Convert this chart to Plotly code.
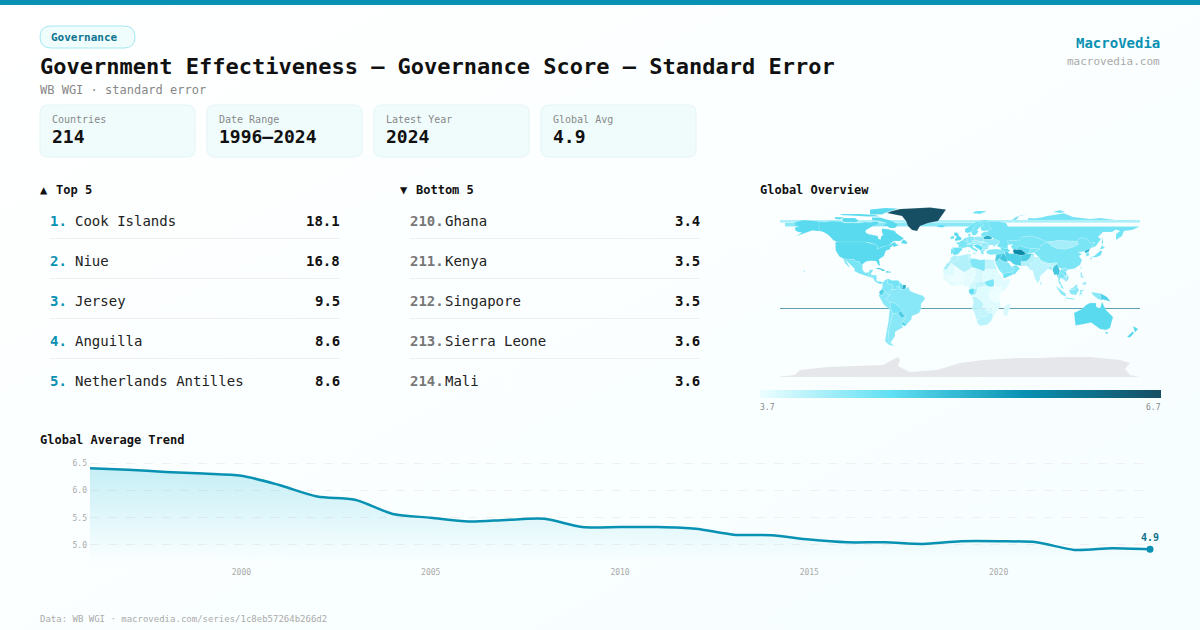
import base64
import plotly.graph_objects as go
from plotly.colors import sample_colorscale

W, H = 1200, 630
MONO = "DejaVu Sans Mono"
CYAN = "#0891b2"
DARK = "#111111"

years = list(range(1996, 2025))
trend = [6.41, 6.38, 6.34, 6.31, 6.27, 6.10, 5.89, 5.83, 5.57, 5.50, 5.43, 5.46, 5.48, 5.33, 5.33,
         5.33, 5.30, 5.19, 5.18, 5.10, 5.05, 5.05, 5.02, 5.07, 5.07, 5.05, 4.91, 4.94, 4.92]

card_labels = ["Countries", "Date Range", "Latest Year", "Global Avg"]
card_values = ["214", "1996–2024", "2024", "4.9"]

top_names = ["Cook Islands", "Niue", "Jersey", "Anguilla", "Netherlands Antilles"]
top_values = ["18.1", "16.8", "9.5", "8.6", "8.6"]
bottom_ranks = ["210.", "211.", "212.", "213.", "214."]
bottom_names = ["Ghana", "Kenya", "Singapore", "Sierra Leone", "Mali"]
bottom_values = ["3.4", "3.5", "3.5", "3.6", "3.6"]

map_min, map_max = 3.7, 6.7
map_scale = [[0, "#ecfeff"], [0.33, "#5fdff3"], [0.66, CYAN], [1, "#164e63"]]

# no topojson offline, so country outlines are rough lon/lat traces
country_shapes = {
    "Wrap band pale": [[(-180, 71), (180, 71), (180, 68.3), (-180, 68.3)]],
    "Wrap band": [[(-175, 68.3), (40, 68.3), (40, 64.5), (-175, 64.5)]],
    "Canada": [[(-141, 69.6), (-135, 69), (-128, 70), (-120, 69.5), (-115, 68), (-108, 68), (-100, 68), (-95, 69), (-90, 68.5), (-85, 69.5), (-81.5, 69), (-82, 66.5), (-87, 65), (-94, 61), (-94.5, 58.7), (-92, 57), (-85, 55.3), (-82, 55), (-82, 52.8), (-79.5, 51.3), (-79, 54.5), (-77, 56), (-78, 59), (-78, 62.4), (-73, 62), (-70, 61), (-65, 60), (-64, 58), (-61, 56), (-56, 52.5), (-60, 50), (-66, 50), (-70, 47), (-65, 49), (-64, 47), (-61, 46), (-66, 44), (-67, 45), (-69, 47.4), (-71, 45), (-75, 45), (-79, 43.5), (-83, 42), (-82.5, 45), (-84.5, 46.5), (-89, 48), (-95, 49), (-123, 49), (-127, 51), (-130, 54.5), (-133, 57), (-137, 59), (-141, 60.3)],
               [(-80, 73.5), (-72, 71.5), (-68, 70), (-62, 66.5), (-65, 63), (-70, 63), (-73, 65), (-78, 65), (-73, 68), (-80, 70), (-88, 71), (-88, 73.5)],
               [(-117, 73), (-105, 73), (-101, 70), (-105, 68.8), (-116, 69), (-118, 71)],
               [(-125, 74), (-116, 73.5), (-120, 71.5), (-125, 72)],
               [(-90, 76.5), (-78, 76.5), (-75, 78), (-65, 81.5), (-62, 82.5), (-75, 83), (-90, 81.5)],
               [(-120, 76), (-105, 75), (-92, 74.5), (-80, 74.5), (-85, 76), (-100, 77), (-118, 77)],
               [(-59, 47.7), (-53, 47), (-53, 49), (-56, 51.5), (-58, 50)]],
    "USA": [[(-168, 65.5), (-164, 66.5), (-166, 68.5), (-157, 71), (-148, 70.3), (-141, 69.6), (-141, 60.3), (-137, 59), (-133, 57), (-131, 55), (-134, 57.5), (-140, 59.8), (-148, 60.5), (-152, 59), (-158, 56.5), (-164, 54.7), (-158, 58.5), (-162, 59), (-165, 61), (-165, 63.5), (-161, 64.5)],
            [(-124.7, 48.4), (-123, 49), (-95, 49), (-89, 48), (-84.5, 46.5), (-82.5, 45), (-83, 42), (-79, 43.5), (-75, 45), (-71, 45), (-69, 47.4), (-67, 45), (-70, 43.5), (-70, 41.7), (-74, 40.5), (-75.5, 37), (-76, 35), (-81, 31.7), (-80, 26), (-81, 25), (-82.8, 28), (-84, 30), (-89, 30.2), (-94, 29.5), (-97.3, 27), (-97.2, 25.9), (-99.5, 27.5), (-101, 29.7), (-103, 29), (-106.5, 31.8), (-111, 31.3), (-114.8, 32.5), (-117.1, 32.5), (-120.6, 34.5), (-122.5, 37.7), (-124.3, 40.4)],
            [(-156.5, 20.5), (-155, 20), (-155.5, 18.8), (-156.2, 19.5)]],
    "Mexico": [[(-117.1, 32.5), (-114.8, 32.5), (-111, 31.3), (-106.5, 31.8), (-103, 29), (-101, 29.7), (-99.5, 27.5), (-97.2, 25.9), (-97.8, 22.5), (-96, 19), (-94, 18.2), (-91, 18.7), (-90.5, 21), (-87, 21.5), (-88, 18.5), (-89, 17.9), (-91, 17.2), (-92.2, 14.6), (-96, 15.7), (-101, 17.5), (-105.5, 20), (-105.5, 22.5), (-109, 25.7), (-112.7, 30), (-114.7, 31.5), (-112, 27), (-110, 23), (-112, 24.7), (-115, 28), (-116, 31)]],
    "Guatemala": [[(-92.2, 14.6), (-91, 17.2), (-89, 17.9), (-88.3, 15.7), (-90, 13.7)]],
    "Honduras": [[(-90, 13.7), (-88.3, 15.7), (-84, 16), (-83.2, 15), (-87, 13)]],
    "Nicaragua": [[(-87, 13), (-83.2, 15), (-83.7, 11), (-85.7, 11)]],
    "Costa Rica": [[(-85.7, 11), (-83.7, 11), (-82.6, 9.5), (-83, 8.3), (-85.5, 10)]],
    "Panama": [[(-83, 8.3), (-82.6, 9.5), (-79.5, 9.6), (-77.3, 8.5), (-78, 7.3), (-80.5, 7.3)]],
    "Cuba": [[(-84.9, 21.9), (-82, 23.2), (-78, 22.3), (-74.2, 20.2), (-77.7, 19.9), (-78.5, 21), (-82, 22)]],
    "Haiti": [[(-74.4, 18.4), (-71.7, 18.3), (-71.7, 19.8), (-73.3, 19.9)]],
    "Dominican Rep.": [[(-71.7, 18.3), (-68.5, 18.4), (-69.8, 19.6), (-71.7, 19.8)]],
    "Colombia": [[(-77.3, 8.5), (-75, 11), (-72, 12.2), (-72.3, 7.5), (-67.5, 6.2), (-67, 1.5), (-70, 1), (-70, -4.2), (-73, -2.3), (-75.2, -0.1), (-78.7, 1.4), (-77.5, 4), (-77.5, 7)]],
    "Venezuela": [[(-72, 12.2), (-68, 10.6), (-62, 10.7), (-60, 8.5), (-61, 6), (-60.7, 5), (-64, 4), (-64, 1.3), (-67, 1.5), (-67.5, 6.2), (-72.3, 7.5)]],
    "Guyana": [[(-60, 8.5), (-57, 6), (-58, 1.5), (-60, 1.2), (-60.7, 5), (-61, 6)]],
    "Suriname": [[(-57, 6), (-54, 5.9), (-54.5, 2.3), (-58, 1.5)]],
    "Ecuador": [[(-80.9, -1), (-78.7, 1.4), (-75.2, -0.1), (-78.3, -4.5), (-80.3, -3.4)]],
    "Peru": [[(-81.3, -4.5), (-80.3, -3.4), (-78.3, -4.5), (-75.2, -0.1), (-73, -2.3), (-70, -4.2), (-74, -7.5), (-70.6, -11), (-69, -12.5), (-69.4, -17.5), (-70.4, -18.3), (-76, -14)]],
    "Brazil": [[(-60.7, 5), (-60, 1.2), (-58, 1.5), (-54.5, 2.3), (-51.7, 4.2), (-50, 0), (-44, -2.5), (-37, -4.8), (-34.8, -7.5), (-39, -13), (-39, -18), (-41, -22), (-48, -25), (-48.5, -28), (-53.4, -33.7), (-57.6, -30.2), (-54, -27), (-54.6, -25.5), (-58, -22), (-58, -20), (-60, -16.3), (-65, -12.5), (-69.5, -11), (-70.6, -11), (-74, -7.5), (-70, -4.2), (-70, 1), (-67, 1.5), (-64, 1.3), (-64, 4)]],
    "Bolivia": [[(-69.5, -11), (-65, -12.5), (-60, -16.3), (-58, -20), (-62.6, -22), (-67, -22.8), (-69.4, -17.5), (-69, -12.5)]],
    "Paraguay": [[(-58, -20), (-58, -22), (-54.6, -25.5), (-58.5, -27.2), (-62.6, -22)]],
    "Uruguay": [[(-57.6, -30.2), (-53.4, -33.7), (-55, -35), (-58.4, -34)]],
    "Argentina": [[(-67, -22.8), (-62.6, -22), (-58.5, -27.2), (-54.6, -25.5), (-54, -27), (-57.6, -30.2), (-58.4, -34), (-57, -36.5), (-62, -39), (-65, -41), (-65, -45), (-69, -51), (-68.5, -52.5), (-72, -50), (-71.5, -40), (-70, -33), (-68.5, -27)]],
    "Chile": [[(-69.4, -17.5), (-67, -22.8), (-68.5, -27), (-70, -33), (-71.5, -40), (-72, -50), (-68.5, -52.5), (-65.5, -55), (-71, -54), (-75, -50), (-73.5, -41), (-71.5, -30), (-70.4, -18.3)]],
    "Greenland": [[(-73, 78), (-68, 80), (-60, 82), (-30, 83.5), (-14, 81.5), (-18, 76), (-22, 70), (-32, 68), (-40, 65), (-43, 60), (-48, 61), (-52, 65), (-54, 70), (-58, 75)]],
    "Iceland": [[(-24, 65.5), (-18, 66.4), (-14, 65), (-18, 63.4), (-22, 64)]],
    "Norway": [[(5, 59), (5, 62), (12, 66), (16, 69), (25, 71), (31, 70), (28, 69.5), (20, 69), (15, 66), (12, 61), (11, 59), (7.5, 58)],
               [(12, 78), (16, 80), (27, 80), (20, 77)]],
    "Sweden": [[(11, 59), (12, 61), (15, 66), (20, 69), (24, 66), (21, 64.5), (17, 61), (18.5, 59.5), (16, 56), (13, 55.5)]],
    "Finland": [[(20, 69), (28, 69.5), (29, 66), (31.5, 62.5), (28, 60.5), (23, 60), (21, 61), (21, 64.5), (24, 66)]],
    "Denmark": [[(8.2, 57), (10.5, 57.5), (10, 55), (8.5, 55)]],
    "UK": [[(-5, 50), (1, 51), (1.7, 52.7), (-1, 55), (-2, 57.5), (-3, 58.6), (-5.5, 58.5), (-6, 56), (-3, 54), (-5, 52)]],
    "Ireland": [[(-10, 52), (-6, 52.2), (-6, 55), (-8.5, 55)]],
    "France": [[(-4.8, 48.4), (-1.5, 48.7), (2.5, 51), (8, 49), (7.5, 44), (3, 43), (-1.8, 43.4), (-1.2, 46)]],
    "Spain": [[(-9, 43.2), (-1.8, 43.4), (3, 42.4), (0, 39), (-2, 36.8), (-5.5, 36), (-7.4, 37.2), (-6.5, 42)]],
    "Portugal": [[(-9, 42), (-6.5, 42), (-7.4, 37.2), (-9, 37)]],
    "Benelux": [[(2.5, 51), (3.5, 51.5), (5, 53.3), (7, 53.3), (6, 50), (5, 49.5)]],
    "Germany": [[(7, 53.5), (9, 54.8), (14, 54), (15, 51), (12, 50.3), (13.5, 48.5), (10, 47.5), (7.5, 47.7), (8, 49), (6, 50)]],
    "Poland": [[(14, 54), (19, 54.4), (23.5, 54), (24, 50.7), (22.5, 49.2), (19, 49.5), (15, 51)]],
    "Czechia-Slovakia": [[(12, 50.3), (15, 51), (19, 49.5), (22.5, 49.2), (22, 48.4), (17, 48), (13.5, 48.5)]],
    "Austria-Switzerland": [[(6, 46.2), (7.5, 47.7), (10, 47.5), (13.5, 48.5), (17, 48), (16.5, 46.8), (13, 46.5), (10, 46.5)]],
    "Italy": [[(7.5, 44), (6.8, 45.8), (10, 46.5), (13, 46.5), (13.7, 45.6), (12.4, 44), (16, 41.9), (18.4, 40.2), (16.5, 39.7), (16, 38), (15.7, 40), (12.3, 41.7), (10, 43.8)],
              [(12.5, 38), (15.6, 38.2), (15, 36.7)], [(8.2, 39), (9.7, 41), (9.6, 39)]],
    "Hungary": [[(17, 48), (22, 48.4), (22, 47), (19, 45.9), (16.5, 46.8)]],
    "Balkans": [[(13.7, 45.6), (16.5, 46.8), (19, 45.9), (22.5, 44.2), (22.7, 42.3), (20.5, 40), (19.3, 41.8), (16, 43.5)]],
    "Romania": [[(22, 48.4), (26.5, 48.2), (28.2, 45.5), (28.7, 43.8), (22.7, 44), (21, 45.5)]],
    "Bulgaria": [[(22.7, 44), (28.7, 43.8), (28, 42), (23, 41.4), (22.7, 42.3)]],
    "Greece": [[(20.5, 40), (23, 41.4), (26.3, 41.3), (23, 39.5), (24, 38), (23, 36.5), (21.5, 37), (21, 38.7)]],
    "Belarus": [[(23.5, 54), (28, 56), (32.5, 53.3), (30.5, 51.4), (24, 51.5)]],
    "Baltics": [[(21, 57), (24, 59.3), (28, 59.5), (28, 56), (23.5, 54), (21, 55.3)]],
    "Ukraine": [[(24, 50.7), (24, 51.5), (30.5, 51.4), (34, 52.2), (40, 49.6), (38, 47), (35, 46), (36.5, 45.2), (33.5, 44.5), (33, 46), (30.5, 46), (28.2, 45.5), (26.5, 48.2), (22.5, 49.2)]],
    "Turkey": [[(26.3, 40), (29, 41.2), (35, 42), (41.5, 41.5), (44.5, 39.7), (44.7, 37.2), (36.2, 36.6), (30.5, 36.3), (27.3, 37)]],
    "Caucasus": [[(41.5, 41.5), (44.5, 39.7), (48, 39), (50, 40.3), (48, 42), (40, 43.5)]],
    "Russia": [[(28, 59.5), (28, 56), (32.5, 53.3), (34, 52.2), (40, 49.6), (38, 47), (37, 45), (40, 43.5), (48, 42), (47.5, 45.5), (49, 46.3), (47, 50), (55, 51), (61, 51), (61, 54), (71, 55), (77, 53.5), (83, 51), (87, 49), (98, 50.5), (107, 50), (117, 49.7), (120, 53.3), (126, 52.7), (131, 48), (135, 48.5), (131, 42.8), (136, 45), (141, 52), (138, 54), (143, 59), (152, 59), (156, 61.5), (160, 60), (156, 57), (156, 51), (162, 55), (164, 60), (172, 61), (180, 64.5), (48, 64.5), (46, 68), (38, 69.5), (31, 70), (28, 69.5), (29, 66), (31.5, 62.5), (28, 60.5)],
               [(68, 71), (68, 73), (75, 72.8), (81, 73.5), (87, 75), (100, 76.5), (104, 77.7), (113, 74), (130, 72), (140, 73), (160, 70.5), (180, 71)],
               [(52, 71), (56, 74), (68, 77), (60, 75.5), (56, 71)], [(93, 79), (100, 81), (105, 79), (100, 78)],
               [(142, 54), (143, 50), (143, 46), (141.8, 48)]],
    "Kazakhstan": [[(47, 50), (55, 51), (61, 51), (61, 54), (71, 55), (77, 53.5), (83, 51), (87, 49), (80, 45), (80, 42), (71, 42.5), (66, 43), (59, 45.5), (56, 41.3), (52.5, 42), (51, 44.5), (53, 46.7), (49, 46.3)]],
    "Uzbekistan": [[(56, 41.3), (59, 45.5), (66, 43), (71, 42.5), (70, 40), (67.5, 37.3), (66, 37.5), (61, 41.5)]],
    "Turkmenistan": [[(53, 40), (54, 42), (56, 41.3), (61, 41.5), (66, 37.5), (64.5, 36.3), (61, 35.6), (54, 37.3)]],
    "Kyrgyz-Tajik": [[(71, 42.5), (80, 42), (74, 38.5), (68, 37), (67.5, 37.3), (70, 40)]],
    "Mongolia": [[(87, 49), (98, 50.5), (107, 50), (117, 49.7), (119, 47), (112, 43.5), (105, 41.7), (96, 42.7), (91, 45.5)]],
    "China": [[(74, 38.5), (80, 42), (80, 45), (87, 49), (91, 45.5), (96, 42.7), (105, 41.7), (112, 43.5), (119, 47), (117, 49.7), (120, 53.3), (126, 52.7), (131, 48), (135, 48.5), (131, 42.8), (125, 40), (121, 39), (118, 39), (122, 37), (119, 35), (122, 31), (120, 26), (114, 22.3), (108, 21.5), (106, 23), (102, 22), (98, 24), (97, 28), (89, 27.5), (81, 30.3), (78.7, 34)]],
    "North Korea": [[(124.5, 40), (130, 42.5), (128.5, 39), (126, 38), (125, 38)]],
    "South Korea": [[(126, 38), (128.5, 38.5), (129.4, 36), (127.7, 34.7), (126.3, 34.7)]],
    "Japan": [[(131, 34), (135, 35.6), (141, 41), (142, 39), (140.5, 35.5), (136, 33.7)], [(140, 42), (142, 45.4), (145, 43.3), (142, 42)], [(130, 33.5), (132, 33), (131, 31)]],
    "Taiwan": [[(120.2, 23), (121.5, 25.2), (121, 22)]],
    "India": [[(68.5, 23.5), (71, 24.5), (70, 27.8), (74, 31), (74, 34), (78.7, 34), (81, 30.3), (80, 28.7), (88, 26.4), (89, 27.5), (96.5, 28.5), (97, 27), (93.5, 24), (92, 23.5), (89, 26), (88, 22), (85, 19.5), (80.3, 15), (80, 11), (77.5, 8), (75, 12), (73, 18), (72.5, 21), (70, 21)]],
    "Pakistan": [[(61, 25), (66.5, 25.3), (68.5, 23.5), (71, 24.5), (70, 27.8), (74, 31), (74, 34), (74.5, 37), (71, 36), (70, 33), (66.5, 30), (61, 29.5)]],
    "Afghanistan": [[(61, 29.5), (66.5, 30), (70, 33), (71, 36), (74.5, 37), (68, 37), (66, 37.5), (64.5, 36.3), (61, 35.6)]],
    "Iran": [[(44.5, 39.7), (48, 39), (49, 37.5), (54, 37.3), (61, 35.6), (61, 29.5), (61, 25), (57, 26), (54, 26.5), (50, 30), (48, 30), (46, 33.5), (44.7, 37.2)]],
    "Iraq": [[(44.7, 37.2), (46, 33.5), (48, 30), (46.5, 29), (44, 29.2), (39, 32.2), (41, 34.5), (42, 37.2)]],
    "Syria-Jordan": [[(36.2, 36.6), (42, 37.2), (41, 34.5), (39, 32.2), (37, 29.5), (35, 29.5), (35.5, 33), (35.8, 35.5)]],
    "Saudi Arabia": [[(35, 29), (37, 29.5), (39, 32.2), (44, 29.2), (46.5, 29), (48.5, 28.3), (51, 25), (51.5, 24.2), (55, 22.5), (52, 19), (44, 17.5), (43, 16.5), (39, 21), (35, 28)]],
    "Yemen": [[(43, 16.5), (44, 17.5), (52, 19), (53, 16.6), (45, 13), (43.5, 12.7)]],
    "Oman": [[(51.5, 24.2), (56.3, 26), (59.8, 22.5), (55, 17), (53, 16.6), (52, 19), (55, 22.5)]],
    "Myanmar": [[(92.5, 21), (93.5, 24), (97, 27), (96.5, 28.5), (98, 24), (100, 20), (98.5, 16), (98.5, 11), (97, 16.5), (94.5, 16)]],
    "Thailand": [[(98.5, 16), (100, 20), (102, 18), (105, 15), (102.5, 12), (100.5, 13.5), (99.5, 10), (102, 6.2), (100, 6.5), (98.5, 9)]],
    "Laos": [[(100, 20), (102, 22), (106, 19), (107, 16), (105, 15), (102, 18)]],
    "Vietnam": [[(102, 22), (106, 23), (108, 21.5), (105.8, 19), (109, 13), (106, 9), (105, 10.5), (107, 14), (107, 16), (106, 19)]],
    "Cambodia": [[(102.5, 12), (105, 15), (107, 14), (105, 10.5)]],
    "Bangladesh": [[(88, 22), (89, 26), (92, 23.5), (92.5, 21)]],
    "Nepal": [[(80, 28.7), (88, 26.4), (88, 28), (81, 30.3)]],
    "Sri Lanka": [[(80, 9.7), (82, 7.3), (80.5, 6)]],
    "Malaysia": [[(100.4, 6.4), (102, 6.2), (104, 2), (101, 3)], [(109.5, 2), (111, 1.5), (114, 1.5), (117.5, 4), (117, 7), (113, 3.5)]],
    "Indonesia": [[(95.3, 5.5), (100, 2), (106, -3), (105.5, -5.8), (101, -3)], [(105.5, -6.5), (114.5, -7.5), (114, -8.6), (106, -7.7)],
                  [(109, 1), (114, 1.5), (117.5, 4), (119, 1), (116, -4), (110.5, -3)], [(119.5, -5.5), (120, 0.8), (125, 1.4), (121, -1), (123, -5), (121, -3)],
                  [(131, -1), (141, -2.6), (141, -9), (138, -8), (133, -4)]],
    "Papua New Guinea": [[(141, -2.6), (147, -6), (150.5, -10.5), (147, -9.8), (143, -8.5), (141, -9)]],
    "Philippines": [[(120.5, 18.5), (122, 18.5), (122, 16), (124, 13), (120.6, 14)], [(122, 7), (125.5, 9.7), (126.5, 7), (124, 6)]],
    "Australia": [[(114, -22), (122, -18), (126, -14), (130, -12), (136, -12), (136, -15.5), (140, -17.5), (142, -11), (146, -19), (153, -26), (150, -37), (146, -39), (140, -38), (135, -34.7), (131, -31.5), (124, -33), (115.5, -34.5), (115, -30)],
                  [(145, -41), (148, -41), (147, -43.5)]],
    "New Zealand": [[(173, -35), (178, -38), (175, -41.5), (174, -39)], [(172.7, -40.6), (174, -42), (170, -46.5), (167, -46), (171, -42)]],
    "Morocco": [[(-6, 35.8), (-2, 35), (-1.2, 32.2), (-5, 30), (-8.7, 27.7), (-13, 27.7), (-9.8, 30), (-9.5, 33)]],
    "W Sahara": [[(-13, 27.7), (-8.7, 27.7), (-12, 23.4), (-13, 21.3), (-17, 21.3)]],
    "Algeria": [[(-2, 35), (9, 37), (8.5, 33), (9.5, 30), (12, 23.5), (6, 19.2), (3, 19), (-5, 25), (-8.7, 27.7), (-5, 30), (-1.2, 32.2)]],
    "Tunisia": [[(9, 37), (11, 37), (10, 34), (11.5, 32.5), (9.5, 30), (8.5, 33)]],
    "Libya": [[(11.5, 32.5), (15, 32.3), (20, 31), (25, 31.6), (25, 20), (24, 19.5), (15, 23), (12, 23.5), (9.5, 30)]],
    "Egypt": [[(25, 31.6), (32, 31.2), (34.2, 31), (34.5, 28), (37, 22), (25, 22)]],
    "Mauritania": [[(-17, 21.3), (-13, 21.3), (-12, 23.4), (-8.7, 27.7), (-5, 25), (-6, 15.5), (-12, 15), (-16.5, 16)]],
    "Mali": [[(-12, 15), (-6, 15.5), (-5, 25), (3, 19), (4, 15), (1, 15), (-3, 11), (-8, 10), (-11.5, 12.5)]],
    "Niger": [[(3, 19), (6, 19.2), (12, 23.5), (15, 23), (15.5, 16), (13.5, 13.5), (4, 13.5), (1, 15), (4, 15)]],
    "Chad": [[(15, 23), (24, 19.5), (22, 13), (24, 9), (19, 9), (15.5, 8), (13.5, 13.5), (15.5, 16)]],
    "Sudan": [[(24, 19.5), (25, 22), (37, 22), (38.5, 18), (36.5, 14), (34, 10), (33, 12), (24, 9), (22, 13)]],
    "South Sudan": [[(24, 9), (33, 12), (34, 10), (34, 4.5), (30, 4), (27, 5)]],
    "Ethiopia": [[(36.5, 14), (38.5, 18), (43, 12), (42, 11), (48, 8), (45, 5), (42, 4), (39.5, 3.5), (36, 4.5), (34, 8), (34, 10)]],
    "Somalia": [[(43, 11), (51, 12), (47.5, 4), (41, -1.7), (41, 3), (42, 4), (45, 5), (48, 8), (42, 11)]],
    "Senegal-Guinea": [[(-17, 14.7), (-16.5, 16), (-12, 15), (-11.5, 12.5), (-8, 10), (-10, 8), (-13, 9), (-16.7, 12.5)]],
    "Liberia": [[(-13, 9), (-10, 8), (-8, 10), (-8, 8), (-7.5, 4.5)]],
    "Ivory Coast": [[(-8, 10), (-3, 10), (-3, 5), (-7.5, 4.5), (-8, 8)]],
    "Ghana-Togo": [[(-3, 11), (3.5, 11.5), (2.7, 6.3), (-3, 5)]],
    "Burkina Faso": [[(-3, 11), (1, 15), (4, 13.5), (3.5, 11.5)]],
    "Nigeria": [[(2.7, 6.3), (3.5, 11.5), (4, 13.5), (13.5, 13.5), (14, 11), (11, 7), (8.5, 4.7), (5.5, 4.3)]],
    "Cameroon": [[(8.5, 4.7), (11, 7), (14, 11), (13.5, 13.5), (15.5, 8), (15, 7), (16, 2), (10, 2.2)]],
    "C.A.R.": [[(15, 7), (15.5, 8), (19, 9), (24, 9), (27, 5), (18, 3.5), (16, 2)]],
    "Gabon": [[(9, 1), (10, 2.2), (14, 2.2), (14, -2.5), (11, -4), (8.8, -1)]],
    "Congo": [[(11, -4), (14, -2.5), (14, 2.2), (16, 2), (18, 3.5), (16, -3), (12, -5)]],
    "DR Congo": [[(12, -6), (16, -3), (18, 3.5), (27, 5), (30, 4), (31, 2), (29, -3), (30, -8), (28, -12), (22, -11), (16, -6)]],
    "Uganda": [[(30, 4), (34, 4.5), (34, 0), (30, -1)]],
    "Kenya": [[(34, 4.5), (36, 4.5), (39.5, 3.5), (42, 4), (41, -1.7), (39, -4.7), (34, -1)]],
    "Tanzania": [[(30, -1), (34, -1), (39, -4.7), (40.3, -10.5), (34.5, -11.5), (30, -8), (29, -3)]],
    "Angola": [[(12, -6), (16, -6), (22, -11), (24, -13), (22, -17.5), (12, -17.3), (13.7, -11)]],
    "Zambia": [[(22, -11), (28, -12), (30, -8), (33, -9.5), (33, -14), (28, -16), (25, -17.5), (22, -17.5), (24, -13)]],
    "Mozambique": [[(34.5, -11.5), (40.3, -10.5), (40.5, -15), (35, -24), (33, -26), (32, -22), (33, -19), (30, -16), (33, -14), (33, -9.5)]],
    "Zimbabwe": [[(25, -17.5), (28, -16), (30, -16), (33, -19), (32, -22), (29, -22.2), (26, -19)]],
    "Namibia": [[(12, -17.3), (22, -17.5), (25, -17.5), (20, -18), (20, -28), (16.5, -28.6), (14.5, -22)]],
    "Botswana": [[(20, -18), (25, -17.5), (26, -19), (29, -22.2), (25, -25.5), (20, -25)]],
    "South Africa": [[(16.5, -28.6), (20, -28), (20, -25), (25, -25.5), (29, -22.2), (32, -22), (33, -26), (31, -30), (27, -33.8), (20, -34.8), (18, -33)]],
    "Madagascar": [[(49.3, -12), (50.3, -16), (47, -25), (44, -25), (43.5, -21), (44.5, -16)]],
}
country_values = {
    "Wrap band pale": 4.15, "Wrap band": 4.4, "Canada": 4.75, "USA": 4.75, "Mexico": 4.5, "Guatemala": 4.5, "Honduras": 4.5,
    "Nicaragua": 4.55, "Costa Rica": 4.55, "Panama": 4.65, "Cuba": 5.0, "Haiti": 4.9, "Dominican Rep.": 4.7, "Colombia": 4.45,
    "Venezuela": 4.55, "Guyana": 4.6, "Suriname": 5.3, "Ecuador": 4.85, "Peru": 4.4, "Brazil": 4.4, "Bolivia": 4.55,
    "Paraguay": 4.9, "Uruguay": 4.8, "Argentina": 4.4, "Chile": 4.4, "Greenland": 6.7, "Iceland": 4.7, "Norway": 4.6,
    "Sweden": 4.5, "Finland": 4.5, "Denmark": 4.6, "UK": 4.75, "Ireland": 4.6, "France": 4.5, "Spain": 4.6, "Portugal": 4.55,
    "Benelux": 4.5, "Germany": 4.4, "Poland": 4.3, "Czechia-Slovakia": 4.2, "Austria-Switzerland": 4.3, "Italy": 4.5,
    "Hungary": 4.3, "Balkans": 4.7, "Romania": 4.3, "Bulgaria": 4.3, "Greece": 4.4, "Belarus": 5.3, "Baltics": 4.5,
    "Ukraine": 4.3, "Turkey": 4.45, "Caucasus": 4.7, "Russia": 4.55, "Kazakhstan": 4.5, "Uzbekistan": 4.65,
    "Turkmenistan": 5.8, "Kyrgyz-Tajik": 4.5, "Mongolia": 4.2, "China": 4.5, "North Korea": 5.2, "South Korea": 4.5,
    "Japan": 4.6, "Taiwan": 4.5, "India": 4.05, "Pakistan": 4.1, "Afghanistan": 4.9, "Iran": 4.85, "Iraq": 5.0,
    "Syria-Jordan": 4.9, "Saudi Arabia": 4.4, "Yemen": 4.6, "Oman": 4.5, "Myanmar": 5.0, "Thailand": 4.5, "Laos": 4.55,
    "Vietnam": 4.4, "Cambodia": 4.3, "Bangladesh": 4.2, "Nepal": 4.1, "Sri Lanka": 4.2, "Malaysia": 4.3, "Indonesia": 4.4,
    "Papua New Guinea": 4.85, "Philippines": 4.3, "Australia": 4.75, "New Zealand": 4.8, "Morocco": 4.1, "W Sahara": 4.2,
    "Algeria": 4.1, "Tunisia": 4.1, "Libya": 4.45, "Egypt": 4.0, "Mauritania": 3.8, "Mali": 3.7, "Niger": 3.75, "Chad": 3.85,
    "Sudan": 3.8, "South Sudan": 4.5, "Ethiopia": 3.8, "Somalia": 3.8, "Senegal-Guinea": 3.75, "Liberia": 3.8,
    "Ivory Coast": 3.75, "Ghana-Togo": 3.72, "Burkina Faso": 3.72, "Nigeria": 3.75, "Cameroon": 3.9, "C.A.R.": 4.0,
    "Gabon": 4.7, "Congo": 4.2, "DR Congo": 3.8, "Uganda": 3.75, "Kenya": 3.7, "Tanzania": 3.7, "Angola": 4.05, "Zambia": 3.8,
    "Mozambique": 3.8, "Zimbabwe": 3.85, "Namibia": 4.0, "Botswana": 4.0, "South Africa": 4.05, "Madagascar": 3.85,
}
no_data_shapes = [
    [(-180, -86), (-180, -85.5), (-165, -84), (-160, -79), (-133, -76), (-100, -75), (-77, -74), (-70, -70), (-62, -66), (-60, -69), (-62, -75),
     (-50, -81), (-23, -79), (-13, -76), (0, -72), (23, -69), (43, -68), (60, -67), (80, -67), (100, -66), (130, -66), (160, -69), (170, -72), (165, -78), (170, -84), (180, -85.5), (180, -86)],
    [(43, 11), (48.5, 11.3), (48, 8), (44, 9)],
]
fiji_wrap_lon = [-180, 180]
fiji_wrap_lat = [-17.5, -17.5]


def fx(px):
    return px / W


def fy(py):
    return 1 - py / H


def text(fig, x, y, s, size, color, bold=False, anchor="left"):
    fig.add_annotation(x=fx(x), y=fy(y), xref="paper", yref="paper", text=s, showarrow=False,
                       xanchor=anchor, yanchor="middle", align=anchor,
                       font=dict(family=MONO, size=size, color=color, weight=700 if bold else 400),
                       borderpad=0, borderwidth=0)


def round_box(fig, x0, y0, x1, y1, r, fill, line):
    a, b = fx(x0), fy(y0)
    c, d = fx(x1), fy(y1)
    rx, ry = r / W, r / H
    path = (f"M{a+rx},{b} L{c-rx},{b} Q{c},{b} {c},{b-ry} L{c},{d+ry} Q{c},{d} {c-rx},{d} "
            f"L{a+rx},{d} Q{a},{d} {a},{d+ry} L{a},{b-ry} Q{a},{b} {a+rx},{b} Z")
    fig.add_shape(type="path", path=path, xref="paper", yref="paper", fillcolor=fill,
                  line=dict(color=line, width=1), layer="below")


def flatten(polys):
    xs, ys = [], []
    for poly in polys:
        xs += [p[0] for p in poly] + [poly[0][0], None]
        ys += [p[1] for p in poly] + [poly[0][1], None]
    return xs, ys


fig = go.Figure()

# page background
svg = ('<svg xmlns="http://www.w3.org/2000/svg" width="1200" height="630"><defs>'
       '<linearGradient id="g" x1="0" y1="0" x2="1" y2="1"><stop offset="0" stop-color="#ffffff"/>'
       '<stop offset="1" stop-color="#f6feff"/></linearGradient></defs>'
       '<rect width="1200" height="630" fill="url(#g)"/></svg>')
fig.add_layout_image(source="data:image/svg+xml;base64," + base64.b64encode(svg.encode()).decode(),
                     xref="paper", yref="paper", x=0, y=1, sizex=1, sizey=1, xanchor="left", yanchor="top",
                     sizing="stretch", layer="below")
fig.add_shape(type="rect", xref="paper", yref="paper", x0=0, x1=1, y0=fy(5), y1=1, fillcolor=CYAN,
              line_width=0, layer="below")

# header
round_box(fig, 40, 26, 135, 48, 11, "#f0fdfd", "#a5e8f3")
text(fig, 51, 37.5, "Governance", 11, "#0e7490", True)
text(fig, 40, 66.5, "Government Effectiveness — Governance Score — Standard Error", 22, DARK, True)
text(fig, 40, 90, "WB WGI · standard error", 12, "#888888")
text(fig, 1160, 43, "MacroVedia", 14, CYAN, True, "right")
text(fig, 1160, 62, "macrovedia.com", 11, "#aaaaaa", False, "right")

# stat cards
for i, (lab, val) in enumerate(zip(card_labels, card_values)):
    x = 40 + i * 167
    round_box(fig, x, 105, x + 155, 157, 8, "#f0fcfc", "#e4f4f6")
    text(fig, x + 12, 119.5, lab, 10, "#888888")
    text(fig, x + 12, 136.5, val, 18, DARK, True)

# ranking lists
text(fig, 40, 189.5, "▲", 12, DARK, True)
text(fig, 56, 189.5, "Top 5", 12, DARK, True)
text(fig, 400, 189.5, "▼", 12, DARK, True)
text(fig, 416, 189.5, "Bottom 5", 12, DARK, True)
text(fig, 760, 189.5, "Global Overview", 12, DARK, True)
for i in range(5):
    y = 221 + i * 40
    text(fig, 50, y, f"{i + 1}.", 14, CYAN, True)
    text(fig, 75, y, top_names[i], 14, "#222222")
    text(fig, 340, y, top_values[i], 14, DARK, True, "right")
    text(fig, 410, y, bottom_ranks[i], 14, "#777777", True)
    text(fig, 445, y, bottom_names[i], 14, "#222222")
    text(fig, 700, y, bottom_values[i], 14, DARK, True, "right")
    if i < 4:
        for a, b in ((50, 340), (410, 700)):
            fig.add_shape(type="line", xref="paper", yref="paper", x0=fx(a), x1=fx(b), y0=fy(y + 17.5), y1=fy(y + 17.5),
                          line=dict(color="#f0f0f0", width=1), layer="below")

# map
fig.add_trace(go.Scatter(x=fiji_wrap_lon, y=fiji_wrap_lat, mode="lines", line=dict(color="#5f9fb3", width=1),
                         hoverinfo="skip", xaxis="x2", yaxis="y2"))
no_x, no_y = flatten(no_data_shapes)
fig.add_trace(go.Scatter(x=no_x, y=no_y, mode="lines", fill="toself", fillcolor="#e6e7eb", line=dict(width=0),
                         hoverinfo="skip", xaxis="x2", yaxis="y2"))
for name, polys in country_shapes.items():
    v = country_values[name]
    color = sample_colorscale(map_scale, (v - map_min) / (map_max - map_min))[0]
    cx, cy = flatten(polys)
    fig.add_trace(go.Scatter(x=cx, y=cy, mode="lines", fill="toself", fillcolor=color, name=name, hoveron="fills",
                             line=dict(color="rgba(255,255,255,0.3)", width=0.4), xaxis="x2", yaxis="y2"))
# only here to carry the colorbar
fig.add_trace(go.Scatter(x=[0, 0], y=[0, 0], mode="markers", hoverinfo="skip", xaxis="x2", yaxis="y2",
                         marker=dict(size=1, opacity=0, color=[map_min, map_max], cmin=map_min, cmax=map_max,
                                     colorscale=map_scale, showscale=True,
                                     colorbar=dict(orientation="h", x=fx(760), xanchor="left", y=fy(398), yanchor="bottom",
                                                   len=401 / W, thickness=8, outlinewidth=0, ticks="", xpad=0, ypad=0,
                                                   showticklabels=False))))
text(fig, 760, 407, "3.7", 8, "#888888")
text(fig, 1161, 407, "6.7", 8, "#888888", False, "right")

# trend
text(fig, 40, 440, "Global Average Trend", 12, DARK, True)
fig.add_trace(go.Scatter(x=years, y=[4.69] * len(years), mode="lines", line=dict(width=0), showlegend=False,
                         hoverinfo="skip", xaxis="x", yaxis="y"))
fig.add_trace(go.Scatter(x=years, y=trend, mode="lines", line=dict(color=CYAN, width=2.5, shape="spline", smoothing=0.8),
                         fill="tonexty", fillgradient=dict(type="vertical", colorscale=[[0, "rgba(6,182,212,0)"], [1, "rgba(6,182,212,0.22)"]]),
                         showlegend=False, xaxis="x", yaxis="y"))
fig.add_trace(go.Scatter(x=years[-1:], y=trend[-1:], mode="markers+text", marker=dict(color=CYAN, size=7),
                         text=[card_values[3]], textposition="top center",
                         textfont=dict(family=MONO, size=10, color="#0e7490", weight=700),
                         showlegend=False, xaxis="x", yaxis="y", cliponaxis=False))

# footer
text(fig, 40, 619, "Data: WB WGI · macrovedia.com/series/1c8eb57264b266d2", 9, "#aaaaaa")

fig.update_layout(
    width=W, height=H, margin=dict(l=0, r=0, t=0, b=0), paper_bgcolor="#fbfefe", plot_bgcolor="rgba(0,0,0,0)",
    showlegend=False,
    xaxis=dict(domain=[fx(90), fx(1150)], range=[1996, 2024], tickvals=[2000, 2005, 2010, 2015, 2020], showgrid=False,
               zeroline=False, showline=False, ticks="", ticklabelstandoff=4, tickfont=dict(family=MONO, size=8, color="#aaaaaa")),
    yaxis=dict(domain=[fy(562), fy(455)], range=[4.688, 6.651], tickvals=[5, 5.5, 6, 6.5], ticktext=["5.0", "5.5", "6.0", "6.5"],
               gridcolor="#f0f0f0", griddash="dash", gridwidth=1, zeroline=False, showline=False, ticks="", ticklabelstandoff=2,
               tickfont=dict(family=MONO, size=8, color="#aaaaaa")),
    # 1 px per degree
    xaxis2=dict(domain=[fx(780), fx(1140)], range=[-180, 180], visible=False, anchor="y2"),
    yaxis2=dict(domain=[fy(380), fy(200)], range=[-89, 91], visible=False, anchor="x2"),
)
fig.write_html("out.html", config={"displayModeBar": False}, post_script="document.body.style.margin='0';")
